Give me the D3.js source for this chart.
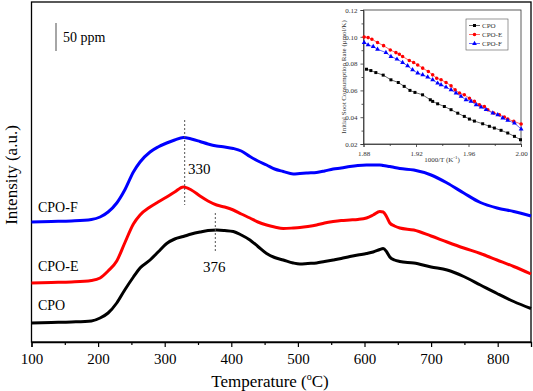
<!DOCTYPE html>
<html lang="en">
<head>
<meta charset="utf-8">
<title>Soot oxidation TPO</title>
<script src="https://cdn.jsdelivr.net/npm/d3@7"></script>
<style>
  body { margin: 0; background: #fff; }
  svg text { font-family: "Liberation Serif", "Times New Roman", "DejaVu Serif", serif !important; }
</style>
</head>
<body>
<div id="chart"></div>
<script>
// main TPO curves: temperature (C) and intensity (a.u., arbitrary)
const temps = [100, 130, 160, 190, 203, 215, 228, 240, 253, 263, 278, 290, 303, 315, 328, 340, 353, 365, 378, 390, 403, 415, 428, 440, 453, 465, 478, 493, 503, 515, 528, 540, 553, 565, 578, 590, 603, 613, 623, 628, 633, 638, 645, 653, 674, 700, 724, 749, 774, 799, 824, 850];
const cpoF = [120, 120.5, 121, 122.5, 125, 130, 139, 152, 170, 180, 190, 195, 199, 202, 204.5, 203, 200.5, 198, 196, 195, 193.5, 191, 185.5, 181, 177, 173, 170.5, 168, 168.5, 169, 169.5, 171, 173, 174, 175.5, 176.5, 177, 177, 177, 176.5, 176, 175.5, 174.5, 173.5, 172, 167, 159, 149, 139.5, 134, 130.5, 126];
const cpoE = [59, 59.5, 60, 61.5, 64, 71, 81, 99, 118, 127, 135, 140, 145, 150, 155, 152, 146, 141, 137, 135, 132, 128, 124, 120, 117, 115, 113.5, 114, 114.5, 115.5, 117, 119, 120.5, 121.5, 122, 122.5, 124, 127, 130.5, 130, 125.5, 119, 116, 114, 112, 106, 100, 94, 88.5, 82, 75.5, 68];
const cpo = [19, 19.5, 20, 21, 24, 29, 39, 52, 65, 74, 82, 90, 98.5, 103, 105.5, 108, 110, 111.5, 112, 111.5, 110.5, 107, 102, 95.5, 88.5, 84.5, 82, 79, 78, 78.5, 79, 80.5, 82, 83.5, 85.5, 87, 88.5, 90, 92.5, 93.5, 90.5, 85, 82, 80.5, 79, 75, 72, 65.5, 57, 48.5, 40.5, 33.5];

const mainSeries = [
  { name: "CPO-F", color: "#0000ff", values: cpoF },
  { name: "CPO-E", color: "#ff0000", values: cpoE },
  { name: "CPO", color: "#000000", values: cpo }
];

// inset: initial soot consumption rate vs 1000/T
const cpoX = [1.8823, 1.8856, 1.8894, 1.895, 1.9009, 1.9065, 1.911, 1.9154, 1.9192, 1.925, 1.9309, 1.9327, 1.9365, 1.9416, 1.9467, 1.9518, 1.9568, 1.9607, 1.9645, 1.9708, 1.9759, 1.9797, 1.9848, 1.9899, 1.995, 1.9996];
const cpoY = [0.0758, 0.0748, 0.0733, 0.0714, 0.0679, 0.0659, 0.063, 0.060, 0.0585, 0.0567, 0.053, 0.0518, 0.050, 0.048, 0.0456, 0.043, 0.0406, 0.0386, 0.0371, 0.0351, 0.0332, 0.0319, 0.0302, 0.0282, 0.0257, 0.0232];
const cpoEX = [1.8805, 1.8835, 1.8864, 1.8907, 1.8953, 1.9004, 1.9047, 1.9073, 1.9098, 1.9149, 1.9182, 1.9213, 1.9251, 1.9294, 1.9327, 1.9358, 1.9391, 1.9429, 1.9467, 1.9498, 1.9531, 1.9568, 1.9607, 1.9645, 1.9683, 1.9721, 1.9747, 1.9792, 1.9835, 1.9873, 1.9899, 1.9945, 2.0001];
const cpoEY = [0.0999, 0.0994, 0.0982, 0.0957, 0.0934, 0.0902, 0.0882, 0.087, 0.0853, 0.0823, 0.0808, 0.079, 0.0766, 0.0741, 0.0716, 0.0691, 0.0679, 0.0659, 0.0634, 0.0604, 0.058, 0.0567, 0.0542, 0.0518, 0.0493, 0.048, 0.0456, 0.0431, 0.0418, 0.0401, 0.0386, 0.0369, 0.0349];
const cpoFX = [1.8805, 1.8835, 1.8874, 1.8907, 1.8971, 1.9009, 1.9055, 1.9098, 1.9136, 1.9174, 1.9213, 1.9251, 1.9289, 1.9327, 1.9365, 1.9391, 1.9429, 1.9467, 1.9505, 1.9543, 1.9581, 1.9619, 1.9658, 1.9696, 1.9734, 1.9785, 1.9823, 1.9861, 1.9899, 1.995, 2.0001];
const cpoFY = [0.0957, 0.0939, 0.0927, 0.0907, 0.0882, 0.0853, 0.0833, 0.0808, 0.0783, 0.0753, 0.0729, 0.0716, 0.0699, 0.0679, 0.0654, 0.0642, 0.0624, 0.0604, 0.058, 0.0555, 0.053, 0.0518, 0.0493, 0.0475, 0.0456, 0.0431, 0.0418, 0.0394, 0.0376, 0.0356, 0.0312];

const xTicks = [100, 200, 300, 400, 500, 600, 700, 800];
const insetXTicks = [1.88, 1.92, 1.96, 2.00];
const insetYTicks = [0.02, 0.04, 0.06, 0.08, 0.10, 0.12];

const W = 533, H = 391;
const serif = "Liberation Serif, Times New Roman, DejaVu Serif, serif";
const svg = d3.select("#chart").append("svg")
  .attr("width", W)
  .attr("height", H)
  .attr("font-family", serif);

const plot = { left: 31.5, right: 531, top: 2, bottom: 342 };

const x = d3.scaleLinear().domain([100, 850]).range([plot.left, plot.right]);
const y = d3.scaleLinear().domain([0, 340]).range([plot.bottom, plot.top]);

// frame
svg.append("rect")
  .attr("x", plot.left).attr("y", plot.top)
  .attr("width", plot.right - plot.left).attr("height", plot.bottom - plot.top)
  .attr("fill", "none").attr("stroke", "#000").attr("stroke-width", 1.3);

// x axis with major and minor ticks
const xAxis = svg.append("g")
  .attr("transform", "translate(0," + plot.bottom + ")")
  .call(d3.axisBottom(x).tickValues(xTicks).tickSize(5).tickFormat(d3.format("d")))
  .attr("font-family", serif);
svg.append("g")
  .attr("transform", "translate(0," + plot.bottom + ")")
  .call(d3.axisBottom(x).tickValues(d3.range(150, 850, 100)).tickSize(3).tickFormat(""))
  .call(g => g.select(".domain").remove());
xAxis.select(".domain").attr("stroke-width", 1.3);
xAxis.selectAll("text")
  .attr("font-size", 15)
  .attr("dy", "0.95em");
svg.selectAll(".tick line").attr("stroke-width", 1.2);

const xTitle = svg.append("text")
  .attr("x", 270).attr("y", 387)
  .attr("text-anchor", "middle")
  .attr("font-size", 17);
xTitle.append("tspan").text("Temperature (");
xTitle.append("tspan").attr("font-size", 10).attr("dy", -7).text("o");
xTitle.append("tspan").attr("dy", 7).text("C)");

svg.append("text")
  .attr("transform", "translate(17,175) rotate(-90)")
  .attr("text-anchor", "middle")
  .attr("font-size", 17)
  .text("Intensity (a.u.)");

// curves
const line = d3.line()
  .x((d, i) => x(temps[i]))
  .y(d => y(d))
  .curve(d3.curveMonotoneX);

mainSeries.forEach(s => {
  svg.append("path")
    .datum(s.values)
    .attr("fill", "none")
    .attr("stroke", s.color)
    .attr("stroke-width", 3)
    .attr("stroke-linejoin", "round")
    .attr("d", line);
});

// curve labels
const labelY = { "CPO-F": 212, "CPO-E": 271, "CPO": 310 };
mainSeries.forEach(s => {
  svg.append("text")
    .attr("x", 38).attr("y", labelY[s.name])
    .attr("font-size", 14)
    .text(s.name);
});

// peak markers
const peaks = [
  { t: 330, y0: 120, y1: 205, label: "330", lx: 188, ly: 174 },
  { t: 376, y0: 213, y1: 252, label: "376", lx: 203, ly: 272 }
];
peaks.forEach(p => {
  svg.append("line")
    .attr("x1", x(p.t)).attr("x2", x(p.t))
    .attr("y1", p.y0).attr("y2", p.y1)
    .attr("stroke", "#555").attr("stroke-width", 1)
    .attr("stroke-dasharray", "2,2");
  svg.append("text")
    .attr("x", p.lx).attr("y", p.ly)
    .attr("font-size", 15)
    .text(p.label);
});

// scale bar
svg.append("line")
  .attr("x1", 56).attr("x2", 56).attr("y1", 23).attr("y2", 51)
  .attr("stroke", "#888").attr("stroke-width", 1.5);
svg.append("text")
  .attr("x", 63).attr("y", 42)
  .attr("font-size", 14)
  .text("50 ppm");

// ---------- inset ----------
const ins = { left: 363.5, right: 521, top: 10, bottom: 144 };
const ix = d3.scaleLinear().domain([1.88, 2.00]).range([ins.left, ins.right]);
const iy = d3.scaleLinear().domain([0.02, 0.12]).range([ins.bottom, ins.top]);

const inset = svg.append("g");
inset.append("rect")
  .attr("x", ins.left).attr("y", ins.top)
  .attr("width", ins.right - ins.left).attr("height", ins.bottom - ins.top)
  .attr("fill", "#fff").attr("stroke", "#333").attr("stroke-width", 0.8);

const ixAxis = inset.append("g")
  .attr("transform", "translate(0," + ins.bottom + ")")
  .call(d3.axisBottom(ix).tickValues(insetXTicks).tickSize(3).tickFormat(d3.format(".2f")));
inset.append("g")
  .attr("transform", "translate(0," + ins.bottom + ")")
  .call(d3.axisBottom(ix).tickValues([1.90, 1.94, 1.98]).tickSize(2).tickFormat(""))
  .call(g => g.select(".domain").remove());
const iyAxis = inset.append("g")
  .attr("transform", "translate(" + ins.left + ",0)")
  .call(d3.axisLeft(iy).tickValues(insetYTicks).tickSize(3).tickFormat(d3.format(".2f")));
inset.append("g")
  .attr("transform", "translate(" + ins.left + ",0)")
  .call(d3.axisLeft(iy).tickValues([0.03, 0.05, 0.07, 0.09, 0.11]).tickSize(2).tickFormat(""))
  .call(g => g.select(".domain").remove());
[ixAxis, iyAxis].forEach(a => {
  a.attr("font-family", serif);
  a.select(".domain").attr("stroke", "#333").attr("stroke-width", 0.8);
  a.selectAll("text").attr("font-size", 7).attr("fill", "#333");
});
inset.selectAll(".tick line").attr("stroke", "#333").attr("stroke-width", 0.8);
ixAxis.selectAll("text").attr("dy", "0.9em");

const ixTitle = inset.append("text")
  .attr("x", 442).attr("y", 162)
  .attr("text-anchor", "middle")
  .attr("font-size", 7)
  .attr("fill", "#333");
ixTitle.append("tspan").text("1000/T  (K");
ixTitle.append("tspan").attr("font-size", 5).attr("dy", -3).text("-1");
ixTitle.append("tspan").attr("dy", 3).text(")");

inset.append("text")
  .attr("transform", "translate(346,77) rotate(-90)")
  .attr("text-anchor", "middle")
  .attr("font-size", 7)
  .attr("fill", "#333")
  .text("Initial Soot Consumption Rate (\u03bcmol/K)");

const insetSeries = [
  { name: "CPO", color: "#000", xs: cpoX, ys: cpoY, sym: d3.symbolSquare, size: 9 },
  { name: "CPO-E", color: "#ff0000", xs: cpoEX, ys: cpoEY, sym: d3.symbolCircle, size: 10 },
  { name: "CPO-F", color: "#0000ff", xs: cpoFX, ys: cpoFY, sym: d3.symbolTriangle, size: 10 }
];
const iline = d3.line().x(d => ix(d[0])).y(d => iy(d[1]));

insetSeries.forEach(s => {
  const pts = s.xs.map((v, i) => [v, s.ys[i]]);
  inset.append("path")
    .datum(pts)
    .attr("fill", "none")
    .attr("stroke", s.color)
    .attr("stroke-width", 0.6)
    .attr("d", iline);
  inset.selectAll(null)
    .data(pts)
    .enter().append("path")
    .attr("transform", d => "translate(" + ix(d[0]) + "," + iy(d[1]) + ")")
    .attr("d", d3.symbol().type(s.sym).size(s.size))
    .attr("fill", s.color);
});

// inset legend
const leg = inset.append("g").attr("transform", "translate(466,19)");
leg.append("rect")
  .attr("width", 42).attr("height", 31)
  .attr("fill", "#fff").attr("stroke", "#555").attr("stroke-width", 0.6);
insetSeries.forEach((s, i) => {
  const ly = 6.5 + i * 9;
  leg.append("line")
    .attr("x1", 3).attr("x2", 14).attr("y1", ly).attr("y2", ly)
    .attr("stroke", s.color).attr("stroke-width", 0.6);
  leg.append("path")
    .attr("transform", "translate(8.5," + ly + ")")
    .attr("d", d3.symbol().type(s.sym).size(s.size))
    .attr("fill", s.color);
  leg.append("text")
    .attr("x", 16).attr("y", ly + 2.5)
    .attr("font-size", 7)
    .attr("fill", "#333")
    .text(s.name);
});
</script>
</body>
</html>
